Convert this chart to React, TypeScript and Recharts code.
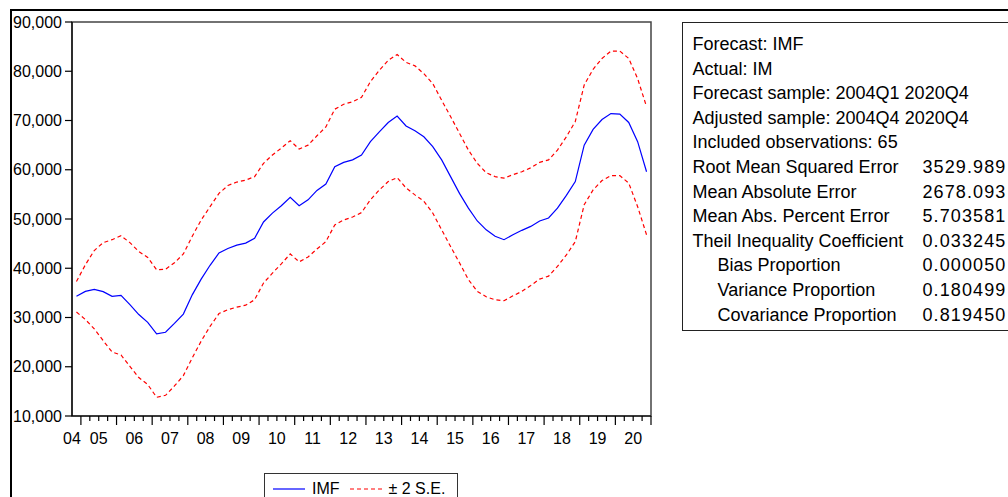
import { Legend, Line, LineChart, ReferenceArea, XAxis, YAxis } from 'recharts';

const yearLabels = ['04', '05', '06', '07', '08', '09', '10', '11', '12', '13', '14', '15', '16', '17', '18', '19', '20'];

// 2004Q4 .. 2020Q4, 65 quarters
const imf = [
  34300, 35300, 35700, 35250, 34300, 34500, 32600, 30600, 29000, 26700, 27000, 28800, 30700,
  34600, 37800, 40600, 43100, 44000, 44700, 45100, 46100, 49400, 51200, 52700, 54400, 52700,
  53900, 55800, 57100, 60600, 61500, 62000, 63000, 65700, 67700, 69600, 70900, 68900, 67900,
  66700, 64700, 62000, 58600, 55200, 52200, 49600, 47800, 46500, 45800, 46800, 47700, 48500,
  49600, 50200, 52200, 54800, 57600, 65000, 68200, 70200, 71400, 71300, 69600, 65700, 59600,
];

const upper = [
  37300, 40700, 43600, 45200, 45800, 46600, 45200, 43400, 42200, 39700, 39800, 41100, 42900,
  46500, 49800, 52500, 55200, 56800, 57500, 57900, 58600, 61300, 63000, 64400, 65900, 64200,
  65000, 66900, 68700, 72300, 73300, 73800, 74700, 77900, 80200, 82200, 83400, 81800, 81100,
  79500, 77500, 74100, 70800, 67400, 64000, 61300, 59400, 58600, 58300, 59000, 59600, 60400,
  61500, 62000, 64000, 66700, 69800, 77200, 80400, 82600, 84100, 84100, 82600, 78500, 72800,
];

const lower = [
  31100, 29600, 27700, 25300, 23000, 22400, 20100, 17800, 16400, 13800, 14200, 16100, 18200,
  21800, 25200, 28200, 30800, 31600, 32100, 32500, 33600, 37000, 39000, 40900, 42900, 41300,
  42300, 43900, 45400, 48800, 49800, 50400, 51300, 53900, 55900, 57600, 58400, 56300, 54900,
  53600, 51200, 47800, 44400, 41100, 37700, 35300, 34200, 33600, 33400, 34400, 35300, 36500,
  37800, 38400, 40400, 42700, 45400, 52900, 55900, 57800, 58800, 58800, 57300, 52500, 46800,
];

const yTicks = [10000, 20000, 30000, 40000, 50000, 60000, 70000, 80000, 90000];

const headerLines = [
  'Forecast: IMF',
  'Actual: IM',
  'Forecast sample: 2004Q1 2020Q4',
  'Adjusted sample: 2004Q4 2020Q4',
  'Included observations: 65',
];
const statNames = [
  'Root Mean Squared Error',
  'Mean Absolute Error',
  'Mean Abs. Percent Error',
  'Theil Inequality Coefficient',
  'Bias Proportion',
  'Variance Proportion',
  'Covariance Proportion',
];
const statValues = ['3529.989', '2678.093', '5.703581', '0.033245', '0.000050', '0.180499', '0.819450'];
const statIndented = [false, false, false, false, true, true, true];

const FONT = '"Liberation Sans", Arial, sans-serif';

const data = imf.map((v, i) => ({ x: i + 0.5, imf: v, upper: upper[i], lower: lower[i] }));
const xTicks = Array.from({ length: imf.length + 1 }, (_, i) => i);

function QuarterTick(props: any) {
  const { x, y, payload } = props;
  const v = payload.value as number;
  const major = v % 4 === 1;
  let label: string | null = null;
  if (v === 0) label = yearLabels[0];
  else if ((v - 3) % 4 === 0) label = yearLabels[(v - 3) / 4 + 1] ?? null;
  return (
    <g>
      {v > 0 && (
        <line x1={x} x2={x} y1={y} y2={y + (major ? 9 : 5)} stroke="#000" strokeWidth={1.2} />
      )}
      {label && (
        <text x={x} y={y + 28} textAnchor="middle" fill="#000" fontSize={16} fontFamily={FONT}>
          {label}
        </text>
      )}
    </g>
  );
}

function LegendBox() {
  return (
    <div
      style={{
        boxSizing: 'border-box',
        width: 194,
        height: 32,
        border: '1.5px solid #333',
        background: '#fff',
        display: 'flex',
        alignItems: 'center',
        fontFamily: FONT,
        fontSize: 16,
        color: '#000',
        paddingLeft: 8,
      }}
    >
      <svg width={32} height={4} style={{ marginRight: 7 }}>
        <line x1={0} x2={32} y1={2} y2={2} stroke="#0000ff" strokeWidth={1.2} />
      </svg>
      <span style={{ marginRight: 10 }}>IMF</span>
      <svg width={32} height={4} style={{ marginRight: 7 }}>
        <line x1={0} x2={32} y1={2} y2={2} stroke="#ff0000" strokeWidth={1.2} strokeDasharray="4 3" />
      </svg>
      <span>± 2 S.E.</span>
    </div>
  );
}

function StatsBox() {
  return (
    <div
      style={{
        position: 'absolute',
        left: 682,
        top: 22,
        width: 340,
        height: 309,
        boxSizing: 'border-box',
        border: '1.5px solid #222',
        padding: '9px 0 0 9.5px',
        fontFamily: FONT,
        fontSize: 18,
        lineHeight: '24.6px',
        color: '#000',
        whiteSpace: 'nowrap',
      }}
    >
      {headerLines.map((t) => (
        <div key={t}>{t}</div>
      ))}
      {statNames.map((t, i) => (
        <div key={t} style={{ position: 'relative' }}>
          <span style={{ paddingLeft: statIndented[i] ? 25 : 0 }}>{t}</span>
          <span style={{ position: 'absolute', left: 230, letterSpacing: 1.1 }}>{statValues[i]}</span>
        </div>
      ))}
    </div>
  );
}

export default function App() {
  return (
    <div
      style={{
        position: 'fixed',
        left: 0,
        top: 0,
        width: 1008,
        height: 497,
        overflow: 'hidden',
        background: '#fff',
        fontFamily: FONT,
      }}
    >
      <div
        style={{
          position: 'absolute',
          left: 10,
          top: 9,
          width: 1000,
          height: 500,
          borderTop: '2px solid #000',
          borderLeft: '2px solid #000',
        }}
      />
      <div style={{ position: 'absolute', left: 0, top: 0 }}>
        <LineChart width={660} height={497} data={data} margin={{ top: 22, right: 9, left: 0, bottom: 51 }}>
          <XAxis
            dataKey="x"
            type="number"
            domain={[0, imf.length]}
            ticks={xTicks}
            interval={0}
            height={30}
            tickLine={false}
            tickSize={0}
            tickMargin={0}
            axisLine={{ stroke: '#000', strokeWidth: 1.2 }}
            tick={<QuarterTick />}
          />
          <YAxis
            type="number"
            domain={[10000, 90000]}
            ticks={yTicks}
            width={72}
            tickSize={7}
            tickMargin={3}
            tickFormatter={(v: number) => v.toLocaleString('en-US')}
            tick={{ fill: '#000', fontSize: 16, fontFamily: FONT }}
            tickLine={{ stroke: '#000', strokeWidth: 1.2 }}
            axisLine={{ stroke: '#000', strokeWidth: 1.2 }}
          />
          <ReferenceArea
            x1={0}
            x2={imf.length}
            y1={10000}
            y2={90000}
            fill="none"
            fillOpacity={0}
            stroke="#444"
            strokeWidth={1.5}
            ifOverflow="visible"
          />
          <Line type="linear" dataKey="upper" stroke="#ff0000" strokeWidth={1.2} strokeDasharray="4 3" dot={false} isAnimationActive={false} />
          <Line type="linear" dataKey="lower" stroke="#ff0000" strokeWidth={1.2} strokeDasharray="4 3" dot={false} isAnimationActive={false} />
          <Line type="linear" dataKey="imf" stroke="#0000ff" strokeWidth={1.2} dot={false} isAnimationActive={false} />
          <Legend
            layout="horizontal"
            verticalAlign="middle"
            align="center"
            wrapperStyle={{ left: 264, top: 473, width: 194, height: 32 }}
            content={() => <LegendBox />}
          />
        </LineChart>
      </div>
      <StatsBox />
    </div>
  );
}
